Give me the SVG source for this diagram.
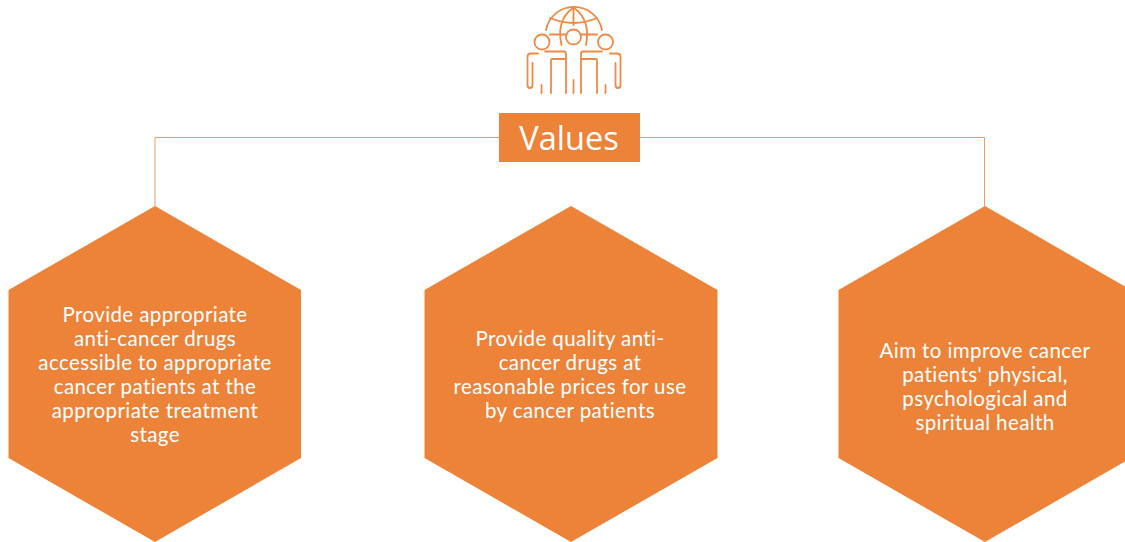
<svg xmlns="http://www.w3.org/2000/svg" width="1125" height="542" viewBox="0 0 1125 542">
<style>
.hex{fill:#ed8339}
.t{font-family:Lato,"Open Sans",sans-serif;font-size:20.5px;letter-spacing:.4px;fill:#fff;text-anchor:middle}
.c{fill:none;stroke:#ef9a5f;stroke-width:1}
.i{fill:none;stroke:#ee8a45;stroke-width:1.8;stroke-linecap:round;stroke-linejoin:round}
</style>
<rect width="1125" height="542" fill="#fff"/>
<g id="connectors">
<path class="c" d="M499.500 137.500H155V206"/>
<path class="c" d="M640 137.500H984.500V206"/>
</g>
<g id="icon">
<path class="i" d="M546 30A28.500 28.500 0 0 1 602 30"/>
<path class="i" d="M550 18Q574 28 597 18"/>
<path class="i" d="M573.500 8V25"/>
<path class="i" d="M573 8Q556 20 561.500 45"/>
<path class="i" d="M574 8Q591 20 586 45"/>
<path class="i" d="M550 34.500H566M581 34.500H597"/>
<circle class="i" cx="542" cy="42" r="7.500"/>
<circle class="i" cx="573.500" cy="37" r="7.500"/>
<circle class="i" cx="605.500" cy="42" r="7.500"/>
<path class="i" d="M545 51.500H564Q566 51.500 566 54V93"/>
<path class="i" d="M602 51.500H583Q581 51.500 581 54V93"/>
<path class="i" d="M538 53.500H531Q527.500 53.500 527.500 57V85Q527.500 88 530 88Q532.500 88 532.500 85V63"/>
<path class="i" d="M610 53.500H617Q620.500 53.500 620.500 57V85Q620.500 88 618 88Q615.500 88 615.500 85V63"/>
<path class="i" d="M551 93V60Q551 59 552 59H566M597 93V60Q597 59 596 59H581"/>
<path class="i" d="M541.500 85V93M573.500 80V93M605.500 85V93"/>
</g>
<g id="values">
<rect x="499" y="113" width="141" height="49" class="hex"/>
<text x="569" y="150" font-family="'Open Sans','Noto Sans',sans-serif" font-size="32.500" fill="#fff" text-anchor="middle">Values</text>
</g>
<g id="hex1">
<polygon class="hex" points="155,206 301,290 301,458 155,542 8.500,458 8.500,290"/>
<text class="t" x="155" y="322">Provide appropriate</text>
<text class="t" x="155" y="346">anti-cancer drugs</text>
<text class="t" x="155" y="370">accessible to appropriate</text>
<text class="t" x="155" y="394">cancer patients at the</text>
<text class="t" x="155" y="418">appropriate treatment</text>
<text class="t" x="155" y="442">stage</text>
</g>
<g id="hex2">
<polygon class="hex" points="571,206 717.500,290 717.500,458 571,542 424.500,458 424.500,290"/>
<text class="t" x="570" y="346">Provide quality anti-</text>
<text class="t" x="570" y="370">cancer drugs at</text>
<text class="t" x="570" y="394">reasonable prices for use</text>
<text class="t" x="570" y="418">by cancer patients</text>
</g>
<g id="hex3">
<polygon class="hex" points="985,206 1131,290 1131,458 985,542 838.500,458 838.500,290"/>
<text class="t" x="985" y="358">Aim to improve cancer</text>
<text class="t" x="985" y="382">patients' physical,</text>
<text class="t" x="985" y="406">psychological and</text>
<text class="t" x="985" y="430">spiritual health</text>
</g>
</svg>
